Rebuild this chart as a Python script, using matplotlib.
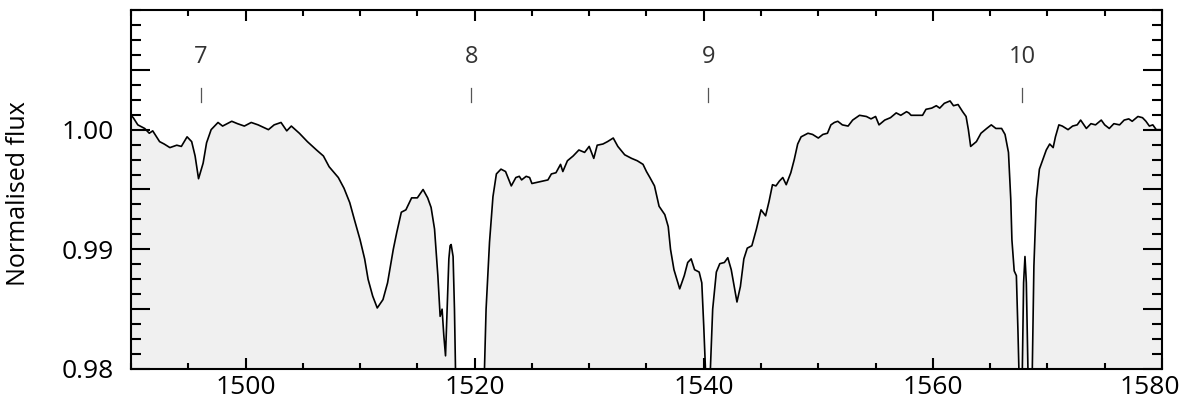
import numpy as np
import matplotlib
matplotlib.use('Agg')
import matplotlib.pyplot as plt
from matplotlib.ticker import MultipleLocator
import matplotlib.transforms as mtransforms

plt.rcParams['font.family'] = ['Open Sans', 'DejaVu Sans']

# spectrum (wavelength, normalised flux)
wl = [1490.0, 1490.2, 1490.6, 1491.2, 1491.6, 1491.9, 1492.5, 1492.9, 1493.4, 1494.0,
      1494.4, 1494.9, 1495.3, 1495.6, 1495.9, 1496.3, 1496.6, 1497.0, 1497.6, 1498.0,
      1498.8, 1499.3, 1499.9, 1500.5,
      1501.1, 1502.0, 1502.5, 1503.1, 1503.6, 1504.0, 1504.7, 1505.4, 1506.2, 1506.8,
      1507.3, 1508.1, 1508.6, 1509.1, 1509.5, 1510.0, 1510.4, 1510.7, 1511.1, 1511.5,
      1512.0, 1512.4,
      1512.9, 1513.2, 1513.6, 1514.0, 1514.5, 1515.0, 1515.5, 1515.9, 1516.2, 1516.5,
      1516.79, 1516.99, 1517.16, 1517.31, 1517.46, 1517.6, 1517.75, 1517.86, 1517.95, 1518.12,
      1518.24, 1518.33, 1518.45,
      1520.8, 1520.86, 1521.0, 1521.3, 1521.6, 1521.9, 1522.3, 1522.7, 1523.2, 1523.6,
      1523.9,
      1524.1, 1524.5, 1524.8, 1525.0, 1526.4, 1526.7, 1527.1, 1527.5, 1527.7, 1528.1,
      1528.6, 1529.1, 1529.6, 1530.0, 1530.4, 1530.7, 1531.2, 1531.6, 1532.1, 1532.5,
      1533.1, 1533.7, 1534.2, 1534.7, 1535.0, 1535.3,
      1535.7, 1536.1, 1536.6, 1536.9, 1537.1, 1537.4, 1537.9, 1538.3, 1538.6, 1538.9,
      1539.2, 1539.6, 1539.83, 1540.0, 1540.15, 1540.22,
      1540.5, 1540.58, 1540.78, 1541.1, 1541.4, 1541.8, 1542.1, 1542.4, 1542.7, 1542.9,
      1543.2, 1543.5, 1543.8, 1544.2, 1544.6, 1545.0, 1545.4, 1545.7, 1546.0, 1546.3,
      1546.6,
      1546.9, 1547.2, 1547.6, 1547.9, 1548.2, 1548.5, 1549.1, 1549.5, 1550.0, 1550.4,
      1550.8, 1551.1, 1551.4, 1551.7, 1552.1, 1552.6, 1553.0, 1553.6, 1554.2, 1554.6,
      1555.0, 1555.3, 1555.8, 1556.3, 1556.8, 1557.2, 1557.7, 1557.9,
      1558.1, 1559.1, 1559.4, 1559.9, 1560.3, 1560.6, 1561.0, 1561.5, 1561.8, 1562.2,
      1562.6, 1562.9, 1563.1, 1563.3, 1563.8, 1564.2, 1564.7, 1565.1, 1565.5, 1566.0,
      1566.3, 1566.6, 1566.8, 1566.9, 1567.1, 1567.29, 1567.43, 1567.51, 1567.58,
      1567.76, 1567.81, 1567.92, 1568.04, 1568.16, 1568.3, 1568.36,
      1568.62, 1568.68, 1568.82, 1569.03, 1569.3, 1569.9, 1570.2, 1570.5, 1570.7, 1571.0,
      1571.3, 1571.8, 1572.2, 1572.6, 1572.9, 1573.4, 1573.8, 1574.2, 1574.7, 1575.0,
      1575.4, 1575.8, 1576.3, 1576.7, 1577.1, 1577.4, 1577.9, 1578.3, 1578.6, 1578.9,
      1579.2, 1579.5, 1579.9, 1580.0]

flux = [1.0012, 1.0010, 1.0004, 1.0001, 0.9997, 0.9999, 0.9990, 0.9988, 0.9985, 0.9987,
        0.9986, 0.9994, 0.9990, 0.9978, 0.9959, 0.9972, 0.9989, 1.0000, 1.0006, 1.0003,
        1.0007, 1.0005, 1.0003, 1.0006,
        1.0004, 1.0000, 1.0004, 1.0006, 0.9999, 1.0003, 0.9997, 0.9990, 0.9983, 0.9978,
        0.9969, 0.9960, 0.9951, 0.9939, 0.9925, 0.9908, 0.9892, 0.9875, 0.9861, 0.9851,
        0.9858, 0.9872,
        0.9900, 0.9914, 0.9931, 0.9933, 0.9943, 0.9943, 0.9950, 0.9943, 0.9935, 0.9917,
        0.9878, 0.9844, 0.9850, 0.9828, 0.9811, 0.9850, 0.9892, 0.9903, 0.9904, 0.9894,
        0.9850, 0.9800, 0.9750,
        0.9750, 0.9800, 0.9850, 0.9906, 0.9944, 0.9963, 0.9967, 0.9965, 0.9953, 0.9960,
        0.9961,
        0.9958, 0.9961, 0.9960, 0.9955, 0.9958, 0.9963, 0.9964, 0.9971, 0.9965, 0.9974,
        0.9978, 0.9983, 0.9981, 0.9986, 0.9976, 0.9987, 0.9988, 0.9990, 0.9993, 0.9986,
        0.9979, 0.9976, 0.9974, 0.9971, 0.9965, 0.9960,
        0.9953, 0.9936, 0.9929, 0.9919, 0.9900, 0.9883, 0.9867, 0.9878, 0.9889, 0.9892,
        0.9883, 0.9881, 0.9872, 0.9836, 0.9800, 0.9750,
        0.9750, 0.9800, 0.9850, 0.9881, 0.9888, 0.9889, 0.9893, 0.9883, 0.9867, 0.9856,
        0.9869, 0.9892, 0.9901, 0.9903, 0.9917, 0.9933, 0.9928, 0.9940, 0.9954, 0.9953,
        0.9957,
        0.9960, 0.9954, 0.9964, 0.9975, 0.9988, 0.9994, 0.9997, 0.9996, 0.9993, 0.9996,
        0.9997, 1.0004, 1.0006, 1.0007, 1.0004, 1.0003, 1.0008, 1.0012, 1.0011, 1.0009,
        1.0011, 1.0004, 1.0008, 1.0010, 1.0014, 1.0012, 1.0015, 1.0014,
        1.0012, 1.0012, 1.0017, 1.0018, 1.0020, 1.0018, 1.0022, 1.0024, 1.0020, 1.0021,
        1.0015, 1.0011, 1.0000, 0.9986, 0.9990, 0.9997, 1.0001, 1.0004, 1.0001, 1.0001,
        0.9996, 0.9981, 0.9942, 0.9908, 0.9882, 0.9878, 0.9831, 0.9800, 0.9750,
        0.9750, 0.9800, 0.9872, 0.9894, 0.9872, 0.9800, 0.9750,
        0.9750, 0.9800, 0.9886, 0.9942, 0.9967, 0.9983, 0.9988, 0.9985, 0.9994, 1.0004,
        1.0003, 1.0000, 1.0003, 1.0004, 1.0008, 1.0001, 1.0005, 1.0004, 1.0008, 1.0004,
        1.0001, 1.0005, 1.0004, 1.0008, 1.0009, 1.0007, 1.0011, 1.0010, 1.0007, 1.0003,
        1.0004, 1.0000, 1.0000, 0.9999]

line_ids = ['7', '8', '9', '10']
line_pos = [1496.1, 1519.7, 1540.4, 1567.8]

fig = plt.figure(figsize=(11.84, 4.09), dpi=100)
ax = fig.add_axes([0.1106, 0.0978, 0.8708, 0.8778])

ax.fill_between(wl, flux, 0.97, color='#f0f0f0', lw=0)
ax.plot(wl, flux, color='black', lw=1.2)

for lid, pos in zip(line_ids, line_pos):
    ax.plot([pos, pos], [1.00235, 1.0035], color='#555555', lw=0.9)
    ax.text(pos, 1.0061, lid, ha='center', va='center', fontsize=17, color='#333333')

ax.set_xlim(1490, 1580)
ax.set_ylim(0.98, 1.01)

ax.set_xticks([1500, 1520, 1540, 1560, 1580])
ax.xaxis.set_minor_locator(MultipleLocator(5))
ax.set_yticks([0.98, 0.985, 0.99, 0.995, 1.00, 1.005])
ax.set_yticklabels(['0.98', '', '0.99', '', '1.00', ''])
ax.yaxis.set_minor_locator(MultipleLocator(0.00125))

ax.tick_params(which='both', direction='in', top=True, right=True, labelsize=19, width=1.5)
ax.tick_params(axis='x', which='major', length=8, pad=4)
ax.tick_params(axis='x', which='minor', length=4)
ax.tick_params(axis='y', which='major', length=14, pad=12)
ax.tick_params(axis='y', which='minor', length=7)
for s in ax.spines.values():
    s.set_linewidth(1.5)

# keep the last x label inside the figure, as in the reference
last = ax.get_xticklabels()[-1]
last.set_transform(last.get_transform() + mtransforms.ScaledTranslation(-12 / 100, 0, fig.dpi_scale_trans))

ax.set_ylabel('Normalised flux', fontsize=18)
ax.yaxis.set_label_coords(-0.097, 0.49)

plt.savefig('out.png', dpi=100)
